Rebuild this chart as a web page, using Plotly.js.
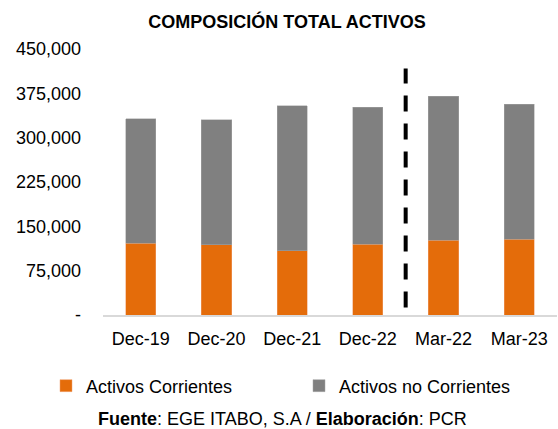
<!DOCTYPE html>
<html>
<head>
<meta charset="utf-8">
<script src="https://cdn.plot.ly/plotly-3.0.1.min.js"></script>
<style>html,body{margin:0;padding:0;background:#fff;}#chart{width:558px;height:429px;}</style>
</head>
<body>
<div id="chart"></div>
<script>
const categories = ["Dec-19", "Dec-20", "Dec-21", "Dec-22", "Mar-22", "Mar-23"];
const activosCorrientes = [121700, 118800, 108700, 119300, 126700, 128400];
const activosNoCorrientes = [210600, 211800, 245500, 232000, 243200, 228000];
const tickValues = [0, 75000, 150000, 225000, 300000, 375000, 450000];
const tickLabels = ["-", "75,000", "150,000", "225,000", "300,000", "375,000", "450,000"];
const seriesNames = ["Activos Corrientes", "Activos no Corrientes"];
const separatorAt = 3.5;

const FONT = "Liberation Sans, Arial, sans-serif";
const H = 429, plotTop = 48.5, plotBottom = 315.5, plotLeft = 103, plotW = 454;
const paperY = (py) => (plotBottom - py) / (plotBottom - plotTop);
const paperX = (px) => (px - plotLeft) / plotW;

const traces = [
  {type: "bar", name: seriesNames[0], x: categories, y: activosCorrientes,
   marker: {color: "#E46C0A", line: {color: "#f0a070", width: 0.5}}, hoverinfo: "y"},
  {type: "bar", name: seriesNames[1], x: categories, y: activosNoCorrientes,
   marker: {color: "#808080", line: {color: "#a6a6a6", width: 0.5}}, hoverinfo: "y"}
];

const layout = {
  width: 558, height: H,
  margin: {l: plotLeft, r: 1, t: plotTop, b: H - plotBottom},
  paper_bgcolor: "#ffffff", plot_bgcolor: "#ffffff",
  barmode: "stack", bargap: 0.6,
  font: {family: FONT, size: 18, color: "#000000"},
  title: {text: "<b>COMPOSICIÓN TOTAL ACTIVOS</b>", font: {family: FONT, size: 18, color: "#000"},
          x: 287/558, xref: "container", xanchor: "center", y: 1 - 21.5/H, yref: "container", yanchor: "middle"},
  xaxis: {type: "category", showgrid: false, zeroline: false, showline: true, linecolor: "#d9d9d9", linewidth: 2,
          ticks: "", ticklabelstandoff: 6, tickfont: {family: FONT, size: 18, color: "#000"}, fixedrange: true},
  yaxis: {range: [0, 450000], tickvals: tickValues, ticktext: tickLabels, showgrid: false, zeroline: false,
          showline: false, ticks: "", ticklabelstandoff: 21, tickfont: {family: FONT, size: 18, color: "#000"}, fixedrange: true},
  showlegend: true,
  legend: {orientation: "h", xref: "paper", yref: "paper", x: paperX(46), xanchor: "left",
           y: paperY(386.7), yanchor: "middle", entrywidth: 208, entrywidthmode: "pixels",
           traceorder: "normal", font: {family: FONT, size: 18, color: "#000"}},
  shapes: [{type: "line", xref: "x", yref: "y", x0: separatorAt, x1: separatorAt, y0: 12500, y1: 417000,
            line: {color: "#000000", width: 4, dash: "16px,12px"}}],
  annotations: [{text: "<b>Fuente</b>: EGE ITABO, S.A / <b>Elaboración</b>: PCR", xref: "paper", yref: "paper",
                 x: paperX(282), y: paperY(420), xanchor: "center", yanchor: "middle", showarrow: false,
                 font: {family: FONT, size: 18, color: "#000"}}]
};

Plotly.newPlot("chart", traces, layout, {displayModeBar: false, staticPlot: true});
</script>
</body>
</html>
